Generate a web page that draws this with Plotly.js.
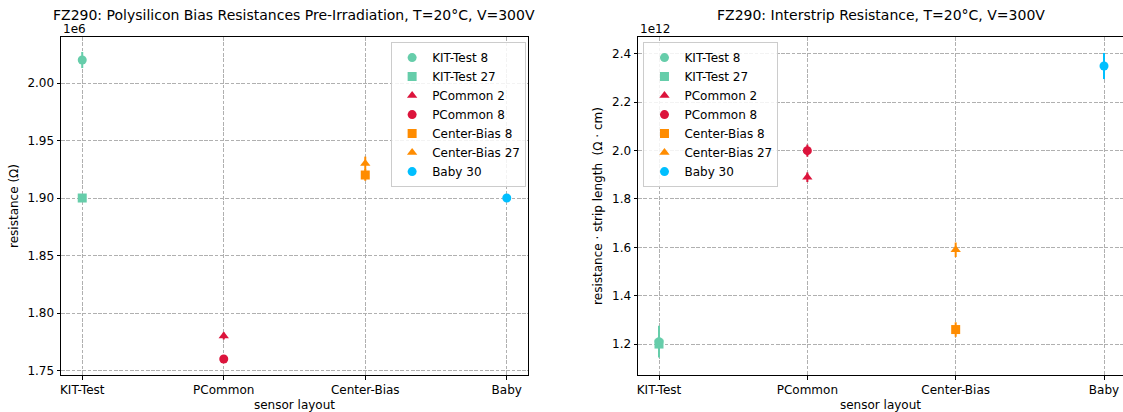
<!DOCTYPE html>
<html>
<head>
<meta charset="utf-8">
<script src="https://cdn.plot.ly/plotly-3.0.1.min.js"></script>
<style>
  html, body { margin: 0; padding: 0; background: #fff; }
  #chart { width: 1123px; height: 412px; }
</style>
</head>
<body>
<div id="chart"></div>
<script>
// Sensor layouts on the shared category axis
const layouts = ["KIT-Test", "PCommon", "Center-Bias", "Baby"];

// Sensor series: name, layout, marker symbol, colour
const seriesNames   = ["KIT-Test 8", "KIT-Test 27", "PCommon 2", "PCommon 8", "Center-Bias 8", "Center-Bias 27", "Baby 30"];
const seriesLayout  = ["KIT-Test", "KIT-Test", "PCommon", "PCommon", "Center-Bias", "Center-Bias", "Baby"];
const seriesSymbol  = ["circle", "square", "triangle-up", "circle", "square", "triangle-up", "circle"];
const seriesColor   = ["#66CDAA", "#66CDAA", "#DC143C", "#DC143C", "#FF8C00", "#FF8C00", "#00BFFF"];

// Polysilicon bias resistance, units of 1e6 Ω
const biasRes    = [2.02, 1.90, 1.78, 1.76, 1.92, 1.93, 1.90];
const biasResErr = [0.007, 0.003, 0.003, 0.003, 0.005, 0.006, 0.003];

// Interstrip resistance · strip length, units of 1e12 Ω·cm
const interRes    = [1.21, 1.20, 1.89, 2.00, 1.26, 1.59, 2.35];
const interResErr = [0.066, 0.02, 0.02, 0.025, 0.03, 0.03, 0.054];

const FONT = "DejaVu Sans, sans-serif";
const traces = [];

function addSeries(values, errors, xa, ya, legendId) {
  for (let i = 0; i < seriesNames.length; i++) {
    traces.push({
      type: "scatter",
      mode: "markers",
      name: seriesNames[i],
      x: [seriesLayout[i]],
      y: [values[i]],
      xaxis: xa,
      yaxis: ya,
      legend: legendId,
      marker: { symbol: seriesSymbol[i], color: seriesColor[i], size: 9, line: { width: 0 } },
      error_y: { type: "data", array: [errors[i]], visible: true, color: seriesColor[i], thickness: 2, width: 0 }
    });
  }
}

addSeries(biasRes, biasResErr, "x", "y", "legend");
addSeries(interRes, interResErr, "x2", "y2", "legend2");

const smallFont = { family: FONT, size: 12, color: "#000" };

const gridStyle = {
  showgrid: true, gridcolor: "#b0b0b0", griddash: "3.7px,1.6px", gridwidth: 1,
  showline: true, linecolor: "#000", linewidth: 1, mirror: true,
  ticks: "outside", ticklen: 3.5, tickwidth: 1, tickcolor: "#000",
  zeroline: false,
  tickfont: smallFont
};

const xCommon = Object.assign({}, gridStyle, {
  type: "category",
  categoryorder: "array",
  categoryarray: layouts,
  title: { text: "sensor layout", font: smallFont, standoff: 4 }
});

const legendStyle = {
  bgcolor: "rgba(255,255,255,0.85)",
  bordercolor: "#cccccc",
  borderwidth: 1,
  font: smallFont,
  tracegroupgap: 0,
  itemwidth: 30
};

const layout = {
  width: 1123,
  height: 412,
  margin: { l: 0, r: 0, t: 37, b: 37 },
  paper_bgcolor: "#fff",
  plot_bgcolor: "#fff",
  font: { family: FONT, color: "#000" },
  xaxis: Object.assign({}, xCommon, { domain: [61 / 1123, 528 / 1123], anchor: "y", range: [-0.15, 3.15] }),
  xaxis2: Object.assign({}, xCommon, { domain: [638 / 1123, 1], anchor: "y2", range: [-0.1416, 3.128] }),
  yaxis: Object.assign({}, gridStyle, {
    anchor: "x",
    range: [1.7461, 2.040],
    tickvals: [1.75, 1.80, 1.85, 1.90, 1.95, 2.00],
    tickformat: ".2f",
    title: { text: "resistance (Ω)", font: smallFont, standoff: 6 }
  }),
  yaxis2: Object.assign({}, gridStyle, {
    anchor: "x2",
    range: [1.072, 2.470],
    tickvals: [1.2, 1.4, 1.6, 1.8, 2.0, 2.2, 2.4],
    tickformat: ".1f",
    title: { text: "resistance · strip length  (Ω · cm)", font: smallFont, standoff: 6 }
  }),
  legend: Object.assign({}, legendStyle, { x: 0.4685, xanchor: "right", y: 0.985, yanchor: "top" }),
  legend2: Object.assign({}, legendStyle, { x: 0.573, xanchor: "left", y: 0.985, yanchor: "top" }),
  annotations: [
    { text: "FZ290: Polysilicon Bias Resistances Pre-Irradiation, T=20°C, V=300V", xref: "paper", yref: "paper",
      x: 294 / 1123, y: 1, yshift: 22, xanchor: "center", yanchor: "middle", showarrow: false,
      font: { family: FONT, size: 14, color: "#000" } },
    { text: "FZ290: Interstrip Resistance, T=20°C, V=300V", xref: "paper", yref: "paper",
      x: 881 / 1123, y: 1, yshift: 22, xanchor: "center", yanchor: "middle", showarrow: false,
      font: { family: FONT, size: 14, color: "#000" } },
    { text: "1e6", xref: "paper", yref: "paper", x: 61 / 1123, y: 1, yshift: 8, xanchor: "left", yanchor: "middle",
      showarrow: false, font: smallFont },
    { text: "1e12", xref: "paper", yref: "paper", x: 638 / 1123, y: 1, yshift: 8, xanchor: "left", yanchor: "middle",
      showarrow: false, font: smallFont }
  ],
  showlegend: true
};

Plotly.newPlot("chart", traces, layout, { staticPlot: true, displayModeBar: false });
</script>
</body>
</html>
